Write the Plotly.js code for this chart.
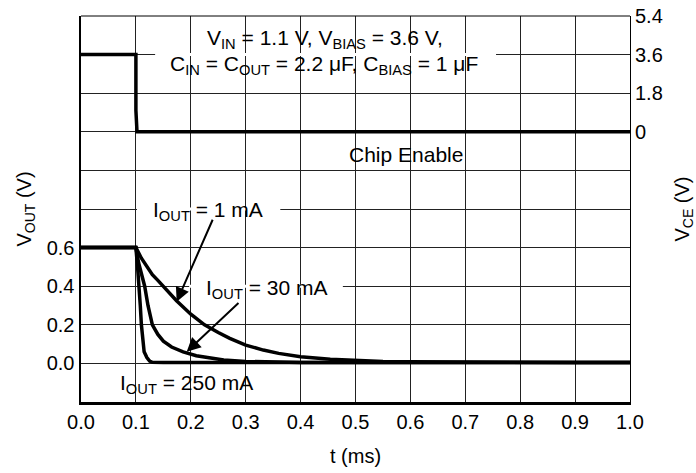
<!DOCTYPE html>
<html>
<head>
<meta charset="utf-8">
<script src="https://cdn.plot.ly/plotly-3.0.1.min.js"></script>
<style>html,body{margin:0;padding:0;background:#fff;}#chart{width:696px;height:473px;}</style>
</head>
<body>
<div id="chart"></div>
<script>
// Time axis (ms)
const ceTime = [0, 0.1, 0.1, 0.102, 1.0];
const ceVolt = [3.6, 3.6, 1.0, 0, 0];

const t1mA = [0, 0.1, 0.11, 0.12, 0.13, 0.14, 0.153, 0.174, 0.2, 0.225, 0.25, 0.271, 0.3, 0.332, 0.36, 0.4, 0.454, 0.5, 0.55, 0.6, 0.7, 0.8, 0.9, 1.0];
const v1mA = [0.6, 0.6, 0.545, 0.5, 0.46, 0.43, 0.39, 0.325, 0.255, 0.2, 0.16, 0.13, 0.095, 0.069, 0.052, 0.035, 0.021, 0.014, 0.01, 0.008, 0.006, 0.005, 0.005, 0.005];

const t30mA = [0, 0.1, 0.105, 0.11, 0.116, 0.122, 0.13, 0.14, 0.15, 0.165, 0.186, 0.21, 0.23, 0.26, 0.3, 0.35, 0.4, 0.5, 1.0];
const v30mA = [0.6, 0.6, 0.52, 0.46, 0.4, 0.3, 0.2, 0.15, 0.115, 0.085, 0.06, 0.04, 0.03, 0.018, 0.01, 0.006, 0.005, 0.005, 0.005];

const t250mA = [0, 0.1, 0.103, 0.106, 0.108, 0.11, 0.112, 0.115, 0.12, 0.125, 0.13, 0.15, 1.0];
const v250mA = [0.6, 0.6, 0.5, 0.4, 0.3, 0.2, 0.12, 0.06, 0.03, 0.012, 0.006, 0.005, 0.005];

const xTicks = [0, 0.1, 0.2, 0.3, 0.4, 0.5, 0.6, 0.7, 0.8, 0.9, 1.0];
const yLeftVals = [-0.2, 0, 0.2, 0.4, 0.6, 0.8, 1.0, 1.2, 1.4, 1.6, 1.8];
const yLeftText = ['', '0.0', '0.2', '0.4', '0.6', '', '', '', '', '', ''];
const yRightVals = [0, 1.8, 3.6, 5.4];
const yRightText = ['0', '1.8', '3.6', '5.4'];

const FONT = 'Liberation Sans, Arial, Helvetica, sans-serif';
const lineStyle = {color: '#000', width: 3.5};

const traces = [
  {x: t1mA, y: v1mA, type: 'scatter', mode: 'lines', line: lineStyle, xaxis: 'x', yaxis: 'y', name: '1 mA'},
  {x: t30mA, y: v30mA, type: 'scatter', mode: 'lines', line: lineStyle, xaxis: 'x', yaxis: 'y', name: '30 mA'},
  {x: t250mA, y: v250mA, type: 'scatter', mode: 'lines', line: lineStyle, xaxis: 'x', yaxis: 'y', name: '250 mA'},
  {x: ceTime, y: ceVolt, type: 'scatter', mode: 'lines', line: lineStyle, xaxis: 'x', yaxis: 'y2', name: 'Chip Enable'}
];

const txt = {family: FONT, size: 21, color: '#000'};
const tickF = {family: FONT, size: 20, color: '#000'};
const titleF = {family: FONT, size: 20, color: '#000'};
function label(text, x, y) {
  return {text: text, x: x, y: y, xref: 'x', yref: 'y', showarrow: false, font: txt, xanchor: 'center', yanchor: 'middle'};
}
function arrow(x, y, ax, ay) {
  return {text: '', x: x, y: y, ax: ax, ay: ay, xref: 'x', yref: 'y', axref: 'x', ayref: 'y',
          showarrow: true, arrowhead: 2, arrowsize: 1.4, arrowwidth: 2, arrowcolor: '#000', standoff: 0};
}

const layout = {
  width: 696, height: 473,
  margin: {l: 81, r: 66, t: 16, b: 71, pad: 0},
  paper_bgcolor: '#fff', plot_bgcolor: '#fff',
  showlegend: false,
  font: {family: FONT, size: 20, color: '#000'},
  xaxis: {
    range: [0, 1], tickvals: xTicks, tickformat: '.1f',
    showgrid: true, gridcolor: '#222', gridwidth: 1,
    showline: true, linecolor: '#000', linewidth: 2.5,
    zeroline: false, ticks: '', tickfont: tickF,
    title: {text: 't (ms)', font: titleF, standoff: 18}
  },
  yaxis: {
    range: [-0.2, 1.8], tickvals: yLeftVals, ticktext: yLeftText,
    showgrid: true, gridcolor: '#222', gridwidth: 1,
    showline: true, linecolor: '#000', linewidth: 2.5,
    zeroline: false, ticks: '', tickfont: tickF,
    title: {text: 'V<sub>OUT</sub> (V)', font: titleF, standoff: 10}
  },
  yaxis2: {
    overlaying: 'y', side: 'right', anchor: 'x',
    range: [-12.6, 5.4], tickvals: yRightVals, ticktext: yRightText,
    showgrid: false, showline: true, linecolor: '#000', linewidth: 1,
    zeroline: false, ticks: '', tickfont: tickF,
    title: {text: 'V<sub>CE</sub> (V)', font: titleF, standoff: 20}
  },
  shapes: [
    {type: 'line', xref: 'paper', yref: 'paper', x0: 0, x1: 1, y0: 1, y1: 1, line: {color: '#000', width: 1}},
    {type: 'line', xref: 'x', yref: 'y', x0: 0.135, x1: 0.756, y0: 1.6, y1: 1.6, line: {color: '#fff', width: 3}, layer: 'above'},
    {type: 'line', xref: 'x', yref: 'y', x0: 0.102, x1: 0.363, y0: 0.8, y1: 0.8, line: {color: '#fff', width: 3}, layer: 'above'},
    {type: 'line', xref: 'x', yref: 'y', x0: 0.197, x1: 0.477, y0: 0.4, y1: 0.4, line: {color: '#fff', width: 3}, layer: 'above'}
  ],
  annotations: [
    label('V<sub>IN</sub> = 1.1 V, V<sub>BIAS</sub> = 3.6 V,', 0.444, 1.68),
    label('C<sub>IN</sub> = C<sub>OUT</sub> = 2.2 μF, C<sub>BIAS</sub> = 1 μF', 0.4435, 1.545),
    label('Chip Enable', 0.592, 1.08),
    label('I<sub>OUT</sub> = 1 mA', 0.232, 0.79),
    label('I<sub>OUT</sub> = 30 mA', 0.338, 0.385),
    label('I<sub>OUT</sub> = 250 mA', 0.192, -0.105),
    arrow(0.1743, 0.32, 0.241, 0.752),
    arrow(0.1925, 0.0606, 0.2896, 0.32)
  ]
};

Plotly.newPlot('chart', traces, layout, {staticPlot: true, displayModeBar: false});
</script>
</body>
</html>
